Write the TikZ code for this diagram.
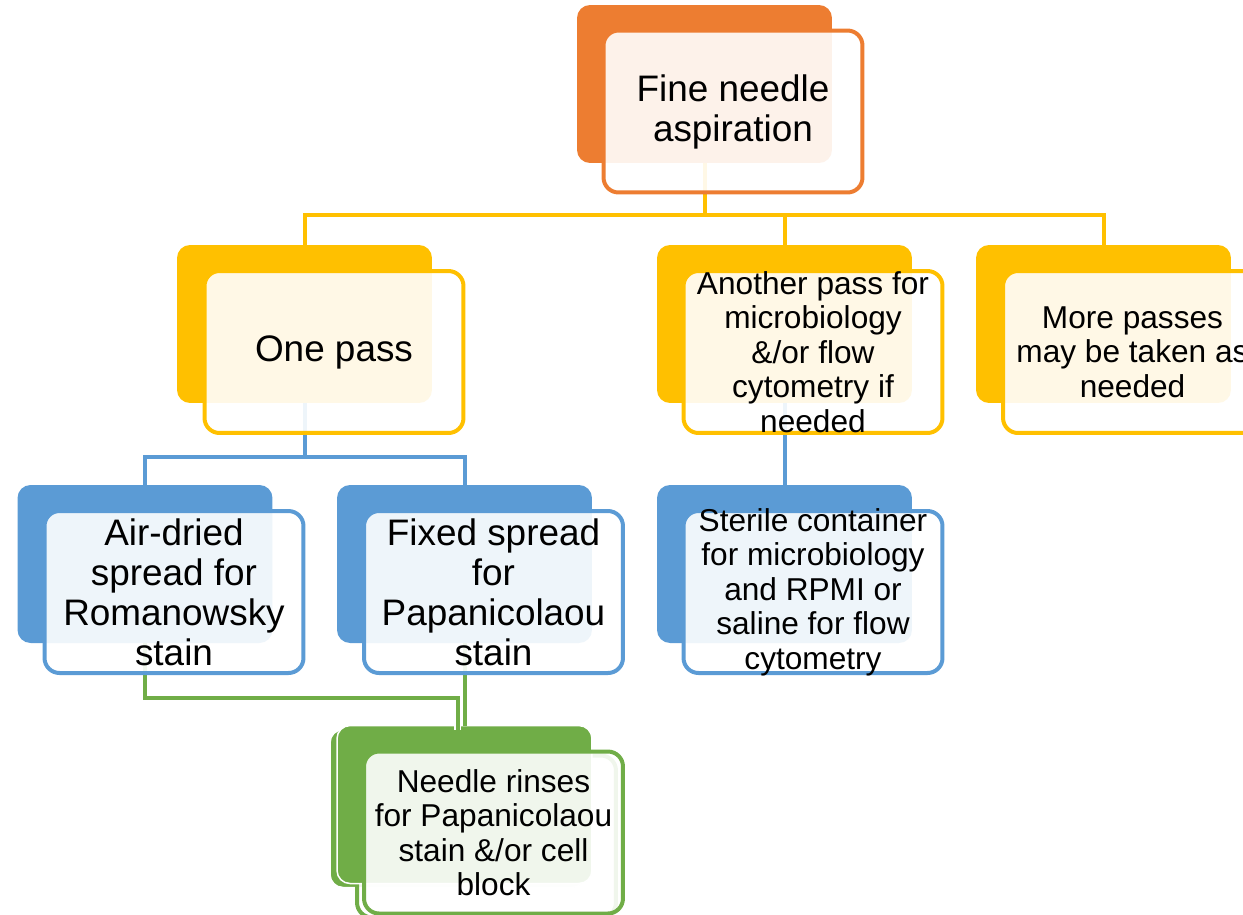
\documentclass[tikz,border=0pt]{standalone}
\usepackage{fontspec}
\setmainfont{Liberation Sans}
\usepackage{tikz}
\usepackage{xcolor}

\definecolor{laranja}{HTML}{ED7D31}
\definecolor{amarelo}{HTML}{FFC000}
\definecolor{azul}{HTML}{5B9BD5}
\definecolor{verde}{HTML}{70AD47}

\newcommand{\textogrande}{\fontsize{21}{22.8}\selectfont}
\newcommand{\textopequeno}{\fontsize{18}{19.6}\selectfont}

\tikzset{
  fundo/.style={rectangle, rounded corners=0.26cm, fill=#1, minimum width=5.1cm,
    minimum height=3.16cm, inner sep=0pt, outer sep=0pt},
  frente/.style={rectangle, rounded corners=0.3cm, draw=#1, line width=0.08cm,
    fill=white, fill opacity=0.9, minimum width=5.18cm, minimum height=3.24cm,
    inner sep=0pt, outer sep=0pt},
  texto/.style={align=center, inner sep=0pt, font=\textogrande},
  liga/.style={draw=#1, line width=0.08cm},
  ligaverde/.style={draw=verde, line width=0.08cm,
    preaction={draw=white, line width=0.14cm}},
}

\begin{document}
\begin{tikzpicture}[x=0.02cm, y=-0.02cm]
        \useasboundingbox (0,0) rectangle (1243,914);
        \clip (0,0) rectangle (1243,914);

        % Caixas de fundo
        \node[fundo=laranja] (fnaB) at (704.5,84) {};
        \node[fundo=amarelo] (umB) at (304.5,324) {};
        \node[fundo=amarelo] (outB) at (784.5,324) {};
        \node[fundo=amarelo] (maisB) at (1103.5,324) {};
        \node[fundo=azul] (arB) at (145,564) {};
        \node[fundo=azul] (fixB) at (464.5,564) {};
        \node[fundo=azul] (estB) at (784.5,564) {};

        % Lavado da agulha (desenhado duas vezes)
        \node[fundo=verde, draw=white, line width=0.03cm] (agB1) at (457.5,808.5) {};
        \node[frente=verde] (agF1) at (486.5,836.5) {};
        \node[fundo=verde, draw=white, line width=0.03cm] (agB2) at (464.5,804.5) {};
        \node[frente=verde] (agF2) at (493.5,832.5) {};

        % Ligacoes
        \draw[liga=amarelo] (fnaB.south) -- ++(0,52) -| (umB.north);
        \draw[liga=amarelo] (fnaB.south) -- ++(0,52) -| (outB.north);
        \draw[liga=amarelo] (fnaB.south) -- ++(0,52) -| (maisB.north);
        \draw[liga=azul] (umB.south) -- ++(0,54) -| (arB.north);
        \draw[liga=azul] (umB.south) -- ++(0,54) -| (fixB.north);
        \draw[liga=azul] (outB.south) -- (estB.north);
        \draw[ligaverde] (arB.south) -- ++(0,55) -| (agB1.north);
        \draw[ligaverde] (fixB.south) -- (agB2.north);

        % Caixas da frente
        \node[frente=laranja] (fnaF) at (733,111.5) {};
        \node[frente=amarelo] (umF) at (334,352) {};
        \node[frente=amarelo] (outF) at (813,352) {};
        \node[frente=amarelo] (maisF) at (1132.5,352) {};
        \node[frente=azul] (arF) at (174,592) {};
        \node[frente=azul] (fixF) at (493.5,592) {};
        \node[frente=azul] (estF) at (813,592) {};

        % Textos
        \node[texto] (fnaT) at (fnaF) {Fine needle\\aspiration};
        \node[texto] (umT) at (umF) {One pass};
        \node[texto, font=\textopequeno] (outT) at (outF)
          {Another pass for\\microbiology\\\&/or flow\\cytometry if\\needed};
        \node[texto, font=\textopequeno] (maisT) at (maisF)
          {More passes\\may be taken as\\needed};
        \node[texto] (arT) at (arF) {Air-dried\\spread for\\Romanowsky\\stain};
        \node[texto] (fixT) at (fixF) {Fixed spread\\for\\Papanicolaou\\stain};
        \node[texto, font=\textopequeno] (estT) at (estF)
          {Sterile container\\for microbiology\\and RPMI or\\saline for flow\\cytometry};
        \node[texto, font=\textopequeno] (agT) at (agF2)
          {Needle rinses\\for Papanicolaou\\stain \&/or cell\\block};
    \end{tikzpicture}
\end{document}
